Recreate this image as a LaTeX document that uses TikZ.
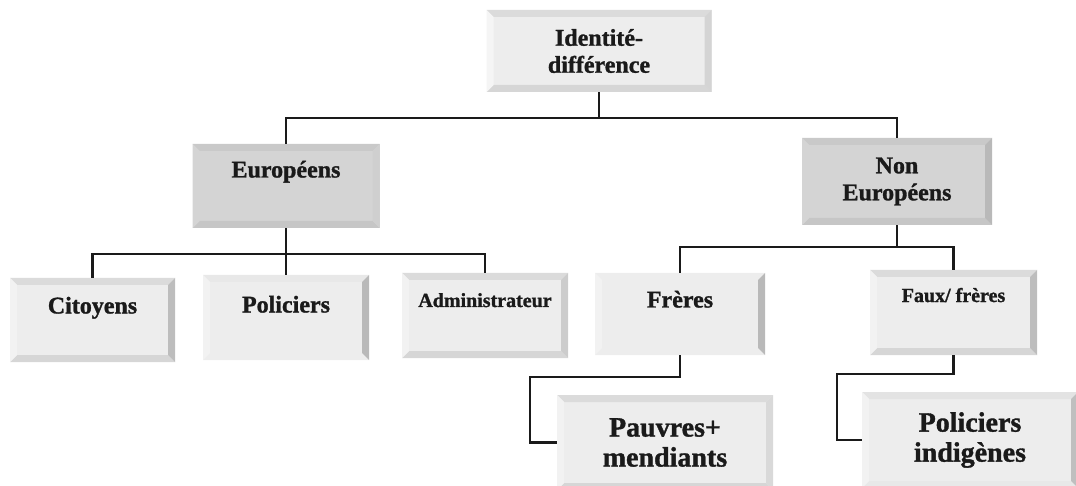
\documentclass[tikz,border=0pt]{standalone}
\usepackage{fontspec}
\setmainfont[BoldFeatures={FakeBold=1.2}]{Liberation Serif}
\usetikzlibrary{calc}

\definecolor{ink}{HTML}{1A1A1A}
\definecolor{facelight}{HTML}{EDEDED}
\definecolor{facedark}{HTML}{D4D4D4}

\tikzset{
  bevw/.store in=\bevw, bevw=7,
  btop/.store in=\bevT, btop=gray!28,
  bright/.store in=\bevR, bright=gray!48,
  bbottom/.store in=\bevB, bbottom=gray!32,
  bleft/.store in=\bevL, bleft=gray!10,
  % bevelled tile: flat face with four sloped edge strips
  tile/.style={
    rectangle, fill=facelight, inner sep=0pt, text=ink,
    path picture={
      \path (path picture bounding box.north west) coordinate (pA)
            (path picture bounding box.north east) coordinate (pB)
            (path picture bounding box.south east) coordinate (pC)
            (path picture bounding box.south west) coordinate (pD);
      \fill[\bevT] (pA) -- (pB) -- ([xshift=-\bevw pt,yshift=-\bevw pt]pB)
                   -- ([xshift=\bevw pt,yshift=-\bevw pt]pA) -- cycle;
      \fill[\bevB] (pD) -- (pC) -- ([xshift=-\bevw pt,yshift=\bevw pt]pC)
                   -- ([xshift=\bevw pt,yshift=\bevw pt]pD) -- cycle;
      \fill[\bevL] (pA) -- (pD) -- ([xshift=\bevw pt,yshift=\bevw pt]pD)
                   -- ([xshift=\bevw pt,yshift=-\bevw pt]pA) -- cycle;
      \fill[\bevR] (pB) -- (pC) -- ([xshift=-\bevw pt,yshift=\bevw pt]pC)
                   -- ([xshift=-\bevw pt,yshift=-\bevw pt]pB) -- cycle;
    }},
  darktile/.style={tile, fill=facedark, btop=gray!42, bright=gray!38,
    bbottom=gray!45, bleft=gray!34},
  fmid/.style={font=\fontsize{24}{27}\selectfont\bfseries},
  fsmall/.style={font=\fontsize{20}{24}\selectfont\bfseries},
  fbig/.style={font=\fontsize{28}{30}\selectfont\bfseries},
  % single line text lifted above the tile centre
  lift/.style={text height=0pt, text depth=#1},
  conn/.style={draw=ink, line width=2.4pt, line join=miter},
}

\begin{document}
\begin{tikzpicture}[x=1pt,y=-1pt]
\useasboundingbox (0,0) rectangle (1076,486);

% tiles
\node[tile, fmid, align=center, minimum width=225pt, minimum height=82pt,
      bright=gray!34, bleft=gray!8] (top) at (599,51)
  {Identité-\\différence};
\node[darktile, fmid, lift=17pt, minimum width=187pt, minimum height=84pt]
  (eur) at (286,186) {Européens};
\node[darktile, fmid, align=center, minimum width=190pt, minimum height=87pt,
      bright=gray!55] (neur) at (897,181.5) {Non\\Européens};

\node[tile, fmid, lift=13pt, minimum width=165pt, minimum height=84pt,
      bright=gray!52] (cit) at (92.5,320) {Citoyens};
\node[tile, fmid, lift=10pt, minimum width=166pt, minimum height=85pt,
      btop=gray!18, bbottom=facelight, bright=gray!55] (pol) at (286,317.5)
  {Policiers};
\node[tile, fsmall, lift=17pt, minimum width=166pt, minimum height=85pt,
      bright=gray!40] (adm) at (485,315.5) {Administrateur};

\node[tile, fmid, lift=13pt, minimum width=170pt, minimum height=82pt,
      btop=facelight, bbottom=gray!14, bright=gray!55] (fre) at (680,314)
  {Frères};
\node[tile, fsmall, lift=21pt, minimum width=167pt, minimum height=85pt,
      bright=gray!52] (faux) at (953.5,312.5) {Faux/ frères};

\node[tile, fbig, align=center, minimum width=216pt, minimum height=95pt,
      bright=gray!30] (pau) at (665,442.5) {Pauvres+\\mendiants};
\node[tile, fbig, align=center, minimum width=216pt, minimum height=96pt,
      btop=gray!22, bbottom=gray!18, bright=gray!50] (pin) at (970,440)
  {Policiers\\indigènes};

% junction points of the tree
\coordinate (j1) at (599,118);
\coordinate (j2) at (286,254);
\coordinate (j3) at (897,247);
\coordinate (k1) at (530,377);
\coordinate (k2) at (837,374);

% connectors
\draw[conn] (top.south) -- (j1);
\draw[conn] (eur.north) |- (j1) -| (neur.north);

\draw[conn] (eur.south) -- (pol.north);
\draw[conn] (cit.north) |- (j2) -| (adm.north);

\draw[conn] (neur.south) -- (j3);
\draw[conn] (fre.north) |- (j3) -| (faux.north);

\draw[conn] (fre.south) |- (k1) |- (pau.west);
\draw[conn] (faux.south) |- (k2) |- (pin.west);
\end{tikzpicture}
\end{document}
